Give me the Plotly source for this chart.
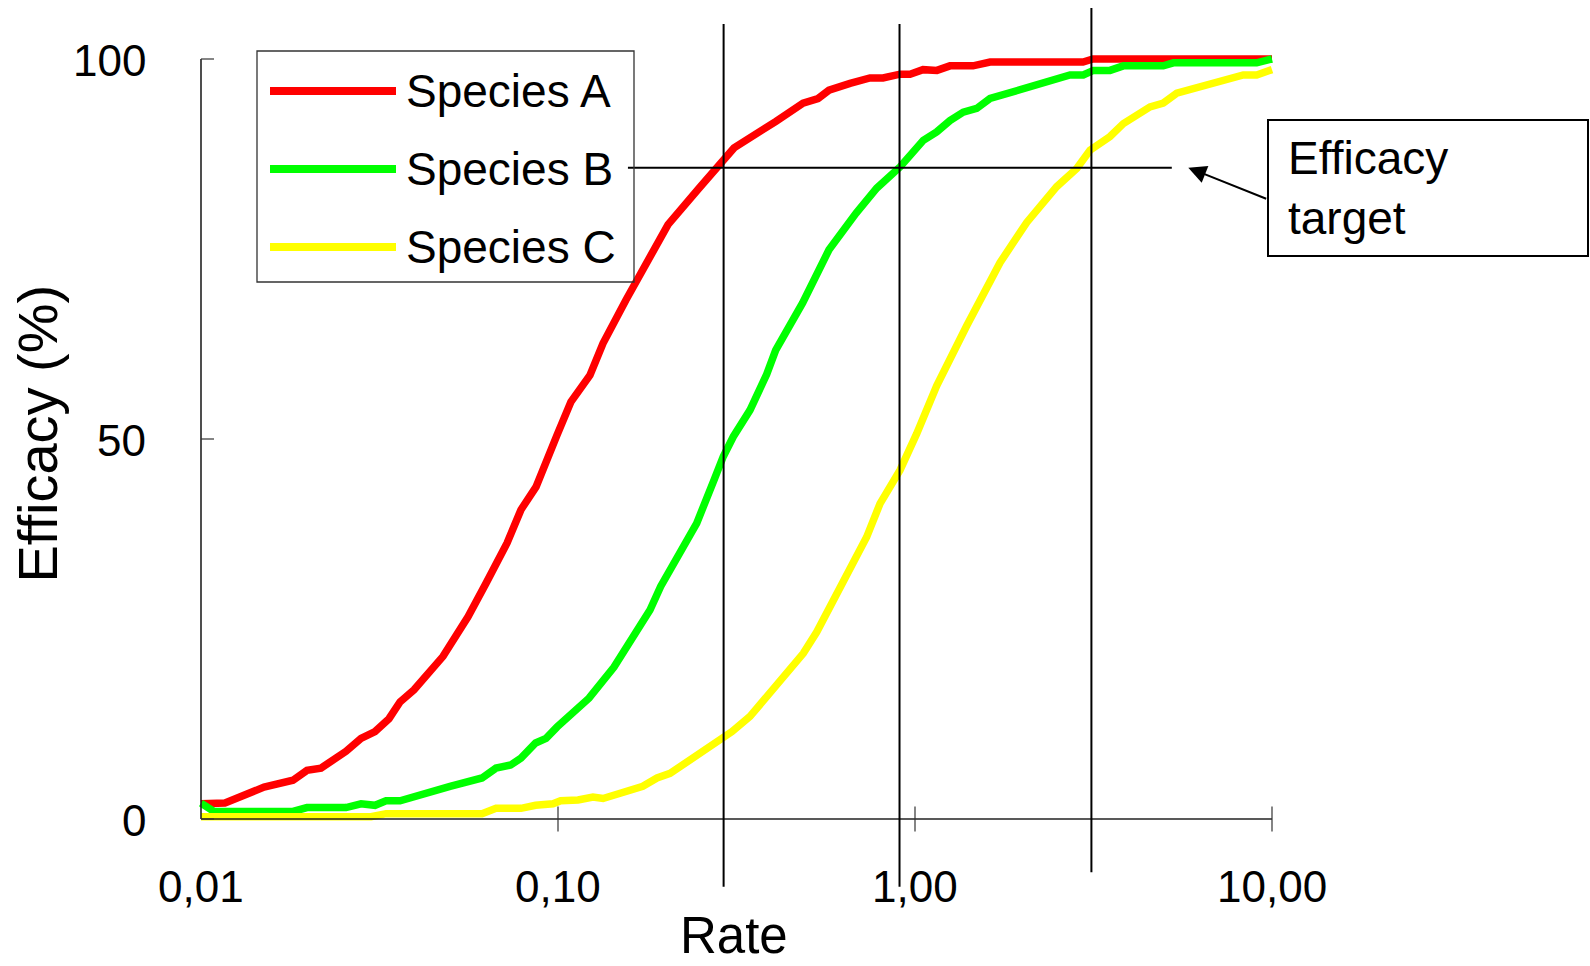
import math
import plotly.graph_objects as go

# ---------------- data ----------------
series_names = ["Species A", "Species B", "Species C"]
series_colors = ["#FF0000", "#00FF00", "#FFFF00"]

rate_a = [0.01, 0.01167, 0.01502, 0.01810, 0.01981, 0.02168, 0.02548, 0.02807, 0.03072,
          0.03362, 0.03610, 0.03951, 0.04764, 0.05596, 0.06284, 0.07196, 0.07876, 0.08678,
          0.09936, 0.1087, 0.1229, 0.1337, 0.1550, 0.1846, 0.2033, 0.2483, 0.2880, 0.3112,
          0.4079, 0.4857, 0.5350, 0.5742, 0.6577, 0.7478, 0.8136, 0.9078, 0.9683, 1.053,
          1.152, 1.253, 1.454, 1.623, 2.955, 3.152, 10.0]
eff_a = [2.0, 2.1, 4.2, 5.1, 6.4, 6.7, 8.9, 10.6, 11.5, 13.2, 15.4, 17.0, 21.4, 26.6, 31.0,
         36.3, 40.7, 43.7, 50.5, 54.9, 58.4, 62.6, 68.3, 74.9, 78.2, 83.0, 86.7, 88.3, 91.8,
         94.2, 94.8, 95.9, 96.8, 97.5, 97.5, 98.0, 98.0, 98.6, 98.5, 99.1, 99.1, 99.6, 99.6,
         100.0, 100.0]

rate_b = [0.01, 0.01087, 0.01810, 0.01981, 0.02548, 0.02807, 0.03072, 0.03298, 0.03610,
          0.04338, 0.04984, 0.06126, 0.06705, 0.07366, 0.07876, 0.08656, 0.09257, 0.09936,
          0.1221, 0.1435, 0.1686, 0.1810, 0.1939, 0.2225, 0.2446, 0.2735, 0.2904, 0.3097,
          0.3450, 0.3842, 0.4072, 0.4844, 0.5742, 0.6834, 0.7812, 0.9078, 1.055, 1.150,
          1.253, 1.365, 1.489, 1.623, 2.099, 2.389, 2.718, 2.961, 3.158, 3.517, 3.833,
          4.960, 5.291, 9.060, 10.0]
eff_b = [2.1, 1.0, 1.0, 1.5, 1.5, 2.0, 1.8, 2.4, 2.4, 3.6, 4.3, 5.4, 6.7, 7.1, 8.0, 10.0,
         10.6, 12.1, 15.9, 20.0, 25.3, 27.5, 30.6, 35.8, 38.9, 44.6, 47.7, 50.3, 53.8, 58.5,
         61.7, 67.9, 74.9, 79.7, 83.0, 85.8, 89.3, 90.4, 91.9, 93.0, 93.5, 94.8, 96.4, 97.0,
         97.9, 97.9, 98.5, 98.5, 99.1, 99.1, 99.5, 99.5, 100.0]

rate_c = [0.01, 0.02994, 0.03298, 0.06126, 0.06705, 0.07876, 0.08656, 0.09683, 0.1017,
          0.1138, 0.1253, 0.1337, 0.1728, 0.1894, 0.2060, 0.2904, 0.3072, 0.3450, 0.4098,
          0.4866, 0.5305, 0.6298, 0.7322, 0.7980, 0.9078, 1.011, 1.150, 1.396, 1.730,
          2.056, 2.494, 2.838, 3.092, 3.517, 3.833, 4.553, 4.960, 5.410, 6.421, 8.311,
          9.060, 10.0]
eff_c = [0.3, 0.3, 0.7, 0.7, 1.4, 1.4, 1.8, 2.0, 2.4, 2.5, 2.9, 2.7, 4.3, 5.4, 6.0, 10.6,
         11.5, 13.5, 17.6, 21.8, 24.6, 31.4, 37.1, 41.5, 45.9, 50.7, 57.0, 64.9, 73.2, 78.5,
         83.2, 85.6, 88.0, 89.8, 91.5, 93.7, 94.2, 95.5, 96.4, 97.9, 97.9, 98.6]

x_tick_vals = [0.01, 0.1, 1.0, 10.0]
x_tick_labels = ["0,01", "0,10", "1,00", "10,00"]
y_tick_vals = [0, 50, 100]
y_tick_labels = ["0", "50", "100"]

x_title = "Rate"
y_title = "Efficacy (%)"
target_label = "Efficacy<br>target"

target_eff = 85.7
target_rate_span = [0.157, 5.24]
marker_rates = [0.291, 0.905, 3.12]
marker_lows = [-8.9, -8.9, -7.0]
marker_highs = [104.6, 104.6, 106.7]

# ---------------- layout geometry ----------------
W, H = 1590, 966
X_ORIGIN_PX = 201      # pixel of rate 0.01
DECADE_PX = 357        # pixels per decade
Y0_PX, Y100_PX = 819, 59
PPU = (Y0_PX - Y100_PX) / 100.0

x_range = [-2 - X_ORIGIN_PX / DECADE_PX, -2 + (W - X_ORIGIN_PX) / DECADE_PX]
y_range = [-(H - Y0_PX) / PPU, Y0_PX / PPU]

FONT = "Liberation Sans, Arial, sans-serif"

fig = go.Figure()

series = [(rate_a, eff_a), (rate_b, eff_b), (rate_c, eff_c)]
for (xs, ys), name, col in zip(series, series_names, series_colors):
    fig.add_trace(go.Scatter(x=xs, y=ys, mode="lines", name=name,
                             line=dict(color=col, width=7.5), showlegend=False,
                             hoverinfo="x+y+name"))

shapes = []
# axis lines
shapes.append(dict(type="line", xref="x", yref="y", x0=x_tick_vals[0], x1=x_tick_vals[-1],
                   y0=0, y1=0, line=dict(color="#222", width=1.6)))
shapes.append(dict(type="line", xref="x", yref="y", x0=x_tick_vals[0], x1=x_tick_vals[0],
                   y0=y_tick_vals[0], y1=y_tick_vals[-1], line=dict(color="#222", width=1.6)))
# ticks (crossing the axis)
for v in y_tick_vals:
    shapes.append(dict(type="line", xref="x", yref="y", xsizemode="pixel",
                       xanchor=x_tick_vals[0], x0=-13, x1=13, y0=v, y1=v,
                       line=dict(color="#333", width=1.2)))
for v in x_tick_vals[1:]:
    shapes.append(dict(type="line", xref="x", yref="y", ysizemode="pixel",
                       yanchor=0, y0=-12.5, y1=12.5, x0=v, x1=v,
                       line=dict(color="#333", width=1.2)))
# efficacy target line and rate markers
shapes.append(dict(type="line", xref="x", yref="y", x0=target_rate_span[0],
                   x1=target_rate_span[1], y0=target_eff, y1=target_eff,
                   line=dict(color="black", width=2)))
for r, lo, hi in zip(marker_rates, marker_lows, marker_highs):
    shapes.append(dict(type="line", xref="x", yref="y", x0=r, x1=r, y0=lo, y1=hi,
                       line=dict(color="black", width=2)))


def px(xp):
    return xp / W


def py(yp):
    return 1 - yp / H


# legend box (manual)
shapes.append(dict(type="rect", xref="paper", yref="paper", x0=px(257), x1=px(634),
                   y0=py(282), y1=py(51), line=dict(color="#333", width=1.3)))
legend_y = [91, 169, 247]
for ly, col in zip(legend_y, series_colors):
    shapes.append(dict(type="line", xref="paper", yref="paper", x0=px(270), x1=px(396),
                       y0=py(ly), y1=py(ly), line=dict(color=col, width=8)))

# callout box
shapes.append(dict(type="rect", xref="paper", yref="paper", x0=px(1268), x1=px(1588),
                   y0=py(256), y1=py(120), line=dict(color="black", width=2)))

annotations = []
for v, lab in zip(y_tick_vals, y_tick_labels):
    annotations.append(dict(x=math.log10(x_tick_vals[0]), y=v, xref="x", yref="y",
                            text=lab, showarrow=False, xanchor="right", yanchor="middle",
                            xshift=-53, yshift=-1, font=dict(size=44, color="black", family=FONT)))
for v, lab in zip(x_tick_vals, x_tick_labels):
    annotations.append(dict(x=math.log10(v), y=0, xref="x", yref="y", text=lab,
                            showarrow=False, xanchor="center", yanchor="middle",
                            yshift=-67, font=dict(size=44, color="black", family=FONT)))
annotations.append(dict(x=px(733.5), y=0, xref="paper", yref="paper", text=x_title,
                        showarrow=False, xanchor="center", yanchor="bottom",
                        font=dict(size=51, color="black", family=FONT)))
annotations.append(dict(x=px(37), y=py(433.5), xref="paper", yref="paper", text=y_title,
                        showarrow=False, xanchor="center", yanchor="middle", textangle=-90,
                        font=dict(size=56, color="black", family=FONT)))
for ly, name in zip(legend_y, series_names):
    annotations.append(dict(x=px(404), y=py(ly), xref="paper", yref="paper", text=name,
                            showarrow=False, xanchor="left", yanchor="middle",
                            font=dict(size=46, color="black", family=FONT)))
annotations.append(dict(x=px(1286), y=py(187.5), xref="paper", yref="paper",
                        text=target_label, showarrow=False, xanchor="left",
                        yanchor="middle", align="left",
                        font=dict(size=46, color="black", family=FONT)))
annotations.append(dict(x=px(1188.3), y=py(167.7), xref="paper", yref="paper", text="",
                        showarrow=True, ax=79.4, ay=31.6, axref="pixel", ayref="pixel",
                        arrowhead=2, arrowsize=1.8, arrowwidth=2, arrowcolor="black",
                        standoff=0, startstandoff=0))

fig.update_layout(
    width=W, height=H, margin=dict(l=0, r=0, t=0, b=0, pad=0),
    paper_bgcolor="white", plot_bgcolor="white", showlegend=False,
    xaxis=dict(type="log", range=x_range, visible=False, fixedrange=True),
    yaxis=dict(range=y_range, visible=False, fixedrange=True),
    shapes=shapes, annotations=annotations,
    font=dict(family=FONT, color="black"),
)

fig.write_html("out.html", config={"displayModeBar": False},
               post_script="document.body.style.margin='0';document.body.style.overflow='hidden';")
